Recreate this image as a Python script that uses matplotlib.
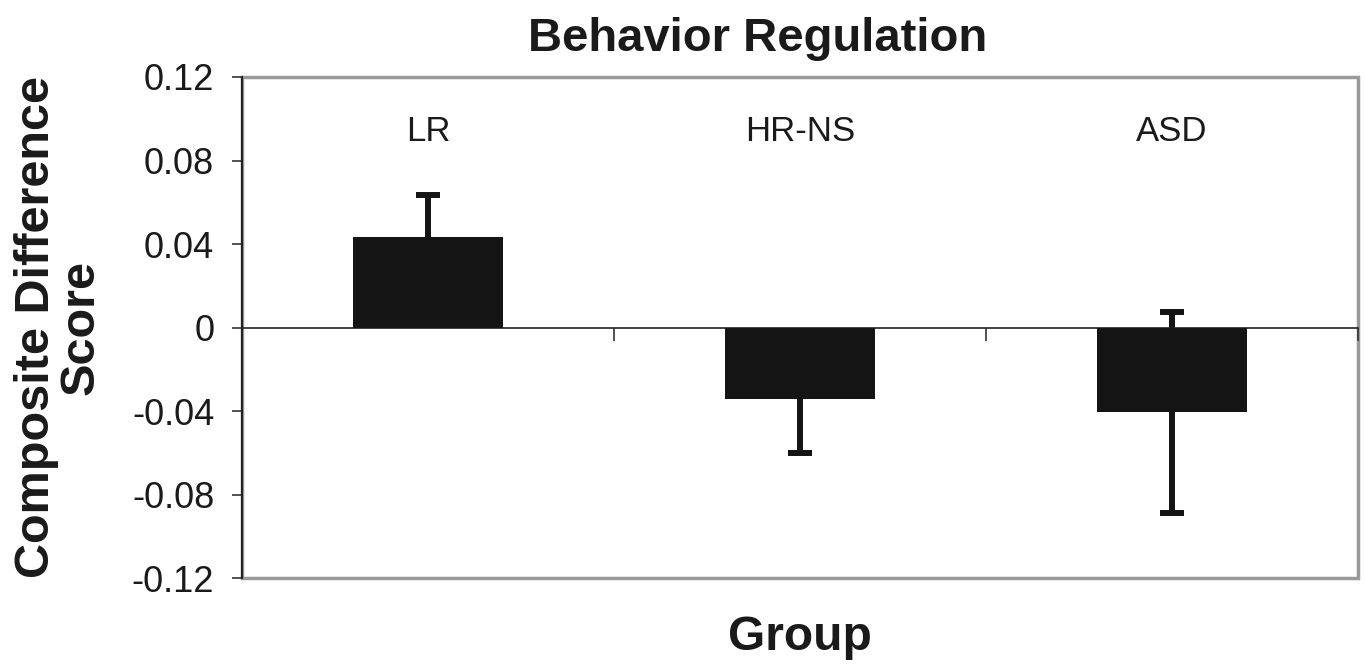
import numpy as np
import matplotlib
matplotlib.use("Agg")
import matplotlib.pyplot as plt

# Datos
grupos = ["LR", "HR-NS", "ASD"]
medias = [0.0434, -0.0343, -0.0407]
errores = [0.0203, 0.0257, 0.0480]
yticks = [-0.12, -0.08, -0.04, 0, 0.04, 0.08, 0.12]
ytick_labels = ["-0.12", "-0.08", "-0.04", "0", "0.04", "0.08", "0.12"]

plt.rcParams['font.family'] = ['Liberation Sans', 'DejaVu Sans']

fig = plt.figure(figsize=(13.65, 6.64), dpi=100)
ax = fig.add_axes([242 / 1365, 1 - 578 / 664, 1116 / 1365, 501 / 664])

x = np.arange(len(grupos))

# Barras de error primero, las barras negras tapan la mitad interior
ax.errorbar(x, medias, yerr=errores, fmt='none', ecolor='#141414',
            elinewidth=4.3, capsize=8.5, capthick=4.3, zorder=2)
ax.bar(x, medias, width=0.405, color='#141414', zorder=3)

# Etiquetas de grupo dentro del área
for i, g in enumerate(grupos):
    ax.text(i, 0.094, g, ha='center', va='center', fontsize=25, color='#1a1a1a')

ax.set_xlim(-0.5, len(grupos) - 0.5)
ax.set_ylim(-0.12, 0.12)
ax.set_yticks(yticks)
ax.set_yticklabels(ytick_labels, fontsize=26, color='#1a1a1a')
ax.tick_params(axis='y', direction='out', length=7, width=1.2, pad=13, color='#333333')

# Eje x en cero con marcas entre categorías
ax.spines['bottom'].set_position(('data', 0))
ax.spines['bottom'].set_linewidth(1.2)
ax.spines['bottom'].set_color('#222222')
ax.spines['left'].set_color('#222222')
ax.spines['left'].set_linewidth(1.5)
ax.spines['top'].set_visible(False)
ax.spines['right'].set_visible(False)
ax.set_xticks(x)
ax.set_xticklabels([])
ax.tick_params(axis='x', which='major', length=0)
ax.set_xticks(np.arange(len(grupos)) + 0.5, minor=True)
ax.tick_params(axis='x', which='minor', direction='out', length=9, width=1.2, color='#333333')

# Marco gris del área de trazado
ax.patch.set_edgecolor('#9a9a9a')
ax.patch.set_linewidth(2.5)

ax.set_title("Behavior Regulation", fontsize=34, fontweight='bold', x=0.462, pad=19,
             color='#1a1a1a')
ax.set_ylabel("Composite Difference\nScore", fontsize=35, fontweight='bold', labelpad=20,
              linespacing=1.0, color='#1a1a1a')
ax.set_xlabel("Group", fontsize=34.5, fontweight='bold', color='#1a1a1a')
ax.xaxis.set_label_coords(0.5, -0.074)

fig.savefig("out.png", dpi=100)
